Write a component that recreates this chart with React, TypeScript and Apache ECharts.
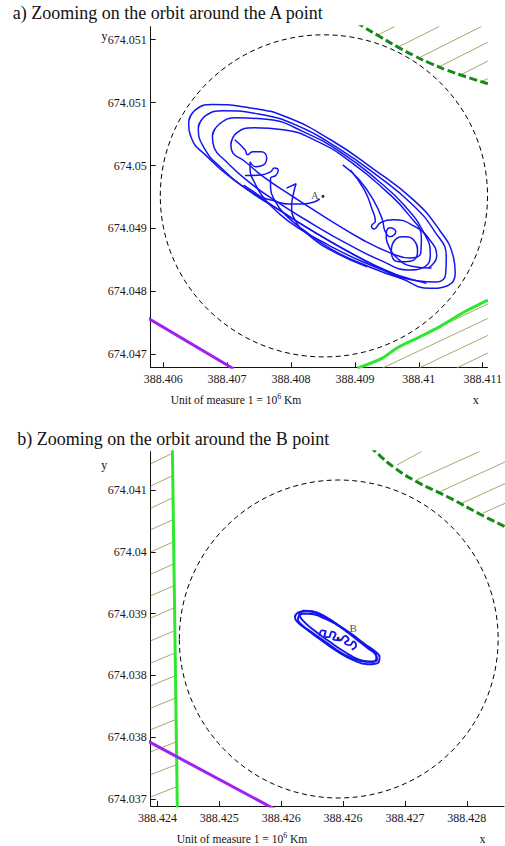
import React, { useEffect, useRef } from 'react';
import * as echarts from 'echarts';

type Pt = [number, number];

// ---------- tick labels (axes are in tick-index units: tick i at value i) ----------
const tickValues = [0, 1, 2, 3, 4, 5];
const xLabelsA = ['388.406', '388.407', '388.408', '388.409', '388.41', '388.411'];
const yLabelsA = ['674.047', '674.048', '674.049', '674.05', '674.051', '674.051'];
const xLabelsB = ['388.424', '388.425', '388.426', '388.426', '388.427', '388.428'];
const yLabelsB = ['674.037', '674.038', '674.038', '674.039', '674.04', '674.041'];

// ---------- panel a: orbit around A ----------
const loopA1: Pt[] = [[0.40,3.70],[0.51,3.89],[0.77,3.97],[1.34,3.92],[1.91,3.78],[2.62,3.41],[3.27,2.96],[3.92,2.45],[4.32,1.98],[4.54,1.55],[4.57,1.29],[4.45,1.09],[4.17,1.05],[3.74,1.20],[3.19,1.47],[2.65,1.77],[2.11,2.10],[1.60,2.44],[1.08,2.79],[0.68,3.15],[0.44,3.44],[0.40,3.70],[0.51,3.89]];
const loopA2: Pt[] = [[0.55,3.60],[0.66,3.79],[0.95,3.87],[1.49,3.82],[2.11,3.63],[2.73,3.28],[3.35,2.84],[3.89,2.39],[4.25,1.95],[4.43,1.55],[4.42,1.28],[4.28,1.15],[3.97,1.17],[3.50,1.33],[2.96,1.60],[2.42,1.91],[1.88,2.25],[1.34,2.60],[0.91,2.96],[0.64,3.28],[0.55,3.60],[0.66,3.79]];
const loopA3: Pt[] = [[0.77,3.47],[0.88,3.66],[1.15,3.76],[1.65,3.73],[2.19,3.54],[2.81,3.19],[3.35,2.77],[3.78,2.36],[4.08,1.93],[4.18,1.60],[4.09,1.39],[3.84,1.34],[3.43,1.48],[2.89,1.75],[2.34,2.07],[1.80,2.41],[1.34,2.74],[0.97,3.08],[0.80,3.28],[0.77,3.47],[0.88,3.66]];
const loopA4: Pt[] = [[1.06,3.33],[1.15,3.52],[1.42,3.60],[1.88,3.57],[2.42,3.38],[2.96,3.04],[3.47,2.61],[3.84,2.22],[4.04,1.85],[4.03,1.61],[3.86,1.53],[3.58,1.60],[3.12,1.82],[2.58,2.15],[2.04,2.50],[1.57,2.82],[1.26,3.08],[1.09,3.20],[1.06,3.33],[1.15,3.52]];
const loopA5: Pt[] = [[3.57,1.66],[3.63,1.82],[3.78,1.87],[3.94,1.79],[3.98,1.63],[3.87,1.48],[3.69,1.47],[3.58,1.56],[3.57,1.66],[3.63,1.82]];
const legA1: Pt[] = [[1.12,3.41],[1.28,3.25],[1.32,3.17],[1.40,3.22],[1.53,3.22],[1.62,3.12],[1.57,3.01],[1.45,2.98],[1.36,3.06],[1.36,2.93],[1.43,2.73],[1.57,2.49],[1.80,2.25],[2.11,2.01],[2.58,1.74],[3.12,1.47],[3.66,1.26],[4.12,1.13]];
const legA2: Pt[] = [[1.28,2.84],[1.53,2.85],[1.68,2.90],[1.74,2.96],[1.80,2.92],[1.76,2.84],[1.68,2.80],[1.68,2.65],[1.76,2.42],[1.91,2.22],[2.19,1.98],[2.65,1.66],[3.20,1.40],[3.74,1.20]];
const hookA: Pt[] = [[1.93,2.64],[2.08,2.71],[2.04,2.56],[2.01,2.36],[2.07,2.12],[2.27,1.90],[2.65,1.64],[3.19,1.39]];
const endA: Pt[] = [[1.26,2.69],[1.42,2.58],[1.54,2.50],[1.73,2.44],[1.96,2.39],[2.19,2.39],[2.36,2.42],[2.45,2.47]];
const legA3: Pt[] = [[2.93,2.93],[3.15,2.61],[3.27,2.30],[3.32,2.12],[3.26,2.04],[3.30,1.99],[3.40,2.09],[3.61,2.14],[3.92,2.04],[4.17,1.82],[4.28,1.56],[4.15,1.37]];
const legA4: Pt[] = [[2.81,3.01],[3.07,2.77],[3.29,2.45],[3.43,2.14],[3.47,1.96],[3.55,1.87],[3.64,1.95],[3.55,2.01],[3.49,1.90],[3.53,1.72],[3.66,1.53],[3.89,1.40],[4.20,1.37]];
const orbitA: Pt[][] = [loopA1, loopA2, loopA3, loopA4, loopA5, legA1, legA2, hookA, endA, legA3, legA4];

const pointA: Pt = [2.50, 2.51];
const circleA = [2.515, 2.518, 2.56]; // centre x, centre y, radius

const boundaryDashedA: Pt[] = [[2.87,5.38],[3.13,5.21],[3.39,5.05],[3.66,4.89],[3.92,4.75],[4.17,4.63],[4.43,4.52],[4.74,4.41],[5.08,4.30]];
const boundaryGreenA: Pt[] = [[3.04,-0.22],[3.43,-0.06],[3.66,0.10],[4.00,0.27],[4.33,0.44],[4.69,0.66],[5.08,0.86]];
const boundaryPurpleA: Pt[] = [[-0.25,0.58],[1.10,-0.23]];
const hatchTopA: Pt[][] = [
  [[3.35,5.07],[3.62,5.21]],
  [[3.67,4.88],[4.32,5.21]],
  [[4.00,4.71],[4.98,5.21]],
  [[4.32,4.57],[5.08,4.96]],
  [[4.65,4.44],[5.08,4.66]],
  [[4.97,4.33],[5.08,4.38]],
];
const hatchBottomA: Pt[][] = [
  [[4.33,0.44],[5.08,0.80]],
  [[3.43,-0.22],[5.08,0.57]],
  [[4.00,-0.22],[5.08,0.30]],
  [[4.59,-0.22],[5.08,0.02]],
];

// ---------- panel b: orbit around B ----------
const loopB1: Pt[] = [[2.22,2.95],[2.30,3.03],[2.42,3.04],[2.63,2.98],[2.90,2.83],[3.14,2.67],[3.35,2.51],[3.53,2.38],[3.59,2.30],[3.56,2.20],[3.40,2.18],[3.14,2.26],[2.92,2.38],[2.66,2.56],[2.42,2.74],[2.26,2.87],[2.22,2.95],[2.30,3.03]];
const loopB2: Pt[] = [[2.27,2.92],[2.34,3.00],[2.45,3.00],[2.64,2.95],[2.90,2.82],[3.12,2.67],[3.32,2.52],[3.48,2.40],[3.54,2.32],[3.51,2.23],[3.37,2.22],[3.12,2.29],[2.92,2.40],[2.68,2.57],[2.45,2.73],[2.30,2.85],[2.27,2.92],[2.34,3.00]];
const loopB3: Pt[] = [[2.29,2.99],[2.37,3.05],[2.50,3.04],[2.72,2.95],[2.98,2.77],[3.21,2.59],[3.40,2.44],[3.53,2.33],[3.55,2.25],[3.45,2.22],[3.27,2.25],[3.03,2.38],[2.79,2.54],[2.53,2.73],[2.34,2.90],[2.29,2.99],[2.37,3.05]];
const curlsB: Pt[] = [[2.62,2.64],[2.66,2.73],[2.72,2.72],[2.70,2.64],[2.77,2.62],[2.82,2.71],[2.88,2.67],[2.84,2.59],[2.95,2.57],[3.03,2.64],[3.09,2.58],[3.03,2.53],[3.11,2.49],[3.17,2.55],[3.21,2.48],[3.14,2.42]];
const orbitB: Pt[][] = [loopB1, loopB2, loopB3, curlsB];

const pointB: Pt = [2.92, 2.60];
const circleB = [2.93, 2.59, 2.577];

const boundaryDashedB: Pt[] = [[3.44,5.72],[3.52,5.63],[3.84,5.36],[4.19,5.14],[4.68,4.90],[5.24,4.60],[5.62,4.41]];
const boundaryGreenB: Pt[] = [[0.24,5.7],[0.321,-0.2]];
const boundaryPurpleB: Pt[] = [[-0.15,0.93],[1.90,-0.17]];
const hatchTopB: Pt[][] = [
  [[3.87,5.41],[4.27,5.63]],
  [[4.19,5.17],[5.21,5.63]],
  [[4.57,4.98],[5.62,5.46]],
  [[4.92,4.79],[5.62,5.11]],
  [[5.26,4.63],[5.62,4.79]],
];
const hatchLeftB: Pt[][] = [
  [[-0.11,5.43],[0.24,5.60]],
  [[-0.11,5.07],[0.25,5.24]],
  [[-0.11,4.71],[0.25,4.88]],
  [[-0.11,4.36],[0.26,4.53]],
  [[-0.11,4.00],[0.27,4.17]],
  [[-0.11,3.64],[0.27,3.81]],
  [[-0.11,3.29],[0.28,3.46]],
  [[-0.11,2.93],[0.28,3.10]],
  [[-0.11,2.56],[0.29,2.73]],
  [[-0.11,2.20],[0.30,2.37]],
  [[-0.11,1.83],[0.30,2.00]],
  [[-0.11,1.47],[0.31,1.64]],
  [[-0.11,1.12],[0.31,1.29]],
  [[-0.11,0.76],[0.32,0.93]],
  [[-0.11,0.39],[0.32,0.56]],
  [[-0.11,0.03],[0.32,0.20]],
];

// ---------- styling ----------
const FONT = "'Liberation Serif', 'Times New Roman', serif";
const BLUE = '#1414f0';
const HATCH = '#aaa66c';
const DARK_GREEN = '#168a16';
const GREEN = '#2ee82e';
const PURPLE = '#a020f0';

function axis(gridIndex: number, min: number, max: number, labels: string[], isX: boolean) {
  return {
    type: 'value',
    gridIndex,
    min,
    max,
    axisLine: { show: true, onZero: false, lineStyle: { color: '#111', width: 1 } },
    axisTick: { show: true, inside: true, length: 5, customValues: tickValues, lineStyle: { color: '#111' } },
    axisLabel: {
      show: true,
      customValues: tickValues,
      margin: isX ? 6 : 4,
      fontFamily: FONT,
      fontSize: 12,
      color: '#1a1a1a',
      formatter: (v: number) => labels[Math.round(v)] ?? '',
    },
    splitLine: { show: false },
  };
}

function line(data: Pt[], g: number, color: string, width: number, smooth: boolean | number, z: number, dash?: number[]) {
  return {
    type: 'line',
    xAxisIndex: g,
    yAxisIndex: g,
    data,
    smooth,
    symbol: 'none',
    showSymbol: false,
    clip: true,
    silent: true,
    z,
    lineStyle: { color, width, type: dash ? dash : 'solid', cap: 'butt' },
  };
}

function circle(c: number[], g: number) {
  return {
    type: 'custom',
    xAxisIndex: g,
    yAxisIndex: g,
    data: [c],
    silent: true,
    z: 3,
    renderItem: (_p: any, api: any) => {
      const ctr = api.coord([api.value(0), api.value(1)]);
      const sz = api.size([api.value(2), api.value(2)]);
      return {
        type: 'ellipse',
        shape: { cx: ctr[0], cy: ctr[1], rx: sz[0], ry: sz[1] },
        style: { fill: 'none', stroke: '#000', lineWidth: 1, lineDash: [5, 3.5] },
      };
    },
  };
}

function point(p: Pt, g: number, name: string, fontSize: number, pos: any, offset: number[]) {
  return {
    type: 'scatter',
    xAxisIndex: g,
    yAxisIndex: g,
    data: [p],
    symbol: 'circle',
    symbolSize: 3,
    silent: true,
    z: 6,
    itemStyle: { color: '#000' },
    label: { show: true, formatter: name, position: pos, distance: 3, offset, fontFamily: FONT, fontSize, color: '#222' },
  };
}

function text(x: number, y: number, t: string, fontSize: number, align = 'left') {
  return {
    type: 'text',
    x,
    y,
    silent: true,
    style: { text: t, fontFamily: FONT, fontSize, fill: '#111', align, verticalAlign: 'middle' },
  };
}

function unitText(x: number, y: number) {
  return {
    type: 'text',
    x,
    y,
    silent: true,
    style: {
      text: '{a|Unit of measure 1 = 10}{s|6}{a| Km}',
      fontFamily: FONT,
      align: 'center',
      verticalAlign: 'middle',
      rich: {
        a: { fontFamily: FONT, fontSize: 11.5, fill: '#111', lineHeight: 14, verticalAlign: 'bottom' },
        s: { fontFamily: FONT, fontSize: 8, fill: '#111', lineHeight: 14, verticalAlign: 'top' },
      },
    },
  };
}

export default function App() {
  const ref = useRef<HTMLDivElement>(null);
  useEffect(() => {
    if (!ref.current) return;
    const chart = echarts.init(ref.current, undefined, { renderer: 'svg' });
    const series: any[] = [];
    // panel a
    hatchTopA.forEach((s) => series.push(line(s, 0, HATCH, 1, false, 1)));
    hatchBottomA.forEach((s) => series.push(line(s, 0, HATCH, 1, false, 1)));
    series.push(line(boundaryDashedA, 0, DARK_GREEN, 3, true, 2, [8, 3.5]));
    series.push(line(boundaryGreenA, 0, GREEN, 3, 0.3, 2));
    series.push(line(boundaryPurpleA, 0, PURPLE, 3, false, 2));
    series.push(circle(circleA, 0));
    orbitA.forEach((s) => series.push(line(s, 0, BLUE, 1.5, true, 4)));
    series.push(point(pointA, 0, 'A', 10, 'left', [0, -1]));
    // panel b
    hatchTopB.forEach((s) => series.push(line(s, 1, HATCH, 1, false, 1)));
    hatchLeftB.forEach((s) => series.push(line(s, 1, HATCH, 1, false, 1)));
    series.push(line(boundaryDashedB, 1, DARK_GREEN, 3, true, 2, [8, 3.5]));
    series.push(line(boundaryGreenB, 1, GREEN, 3, false, 2));
    series.push(line(boundaryPurpleB, 1, PURPLE, 3, false, 2));
    series.push(circle(circleB, 1));
    orbitB.forEach((s) => series.push(line(s, 1, BLUE, 1.9, true, 4)));
    series.push(point(pointB, 1, 'B', 11, 'top', [15, 0]));

    chart.setOption({
      animation: false,
      backgroundColor: '#fff',
      textStyle: { fontFamily: FONT },
      grid: [
        { left: 150.7, top: 26.7, width: 341, height: 340.6, containLabel: false },
        { left: 150.7, top: 451.7, width: 353.3, height: 354.3, containLabel: false },
      ],
      xAxis: [axis(0, -0.195, 5.076, xLabelsA, true), axis(1, -0.11, 5.602, xLabelsB, true)],
      yAxis: [axis(0, -0.207, 5.207, yLabelsA, false), axis(1, -0.117, 5.626, yLabelsB, false)],
      series,
      graphic: [
        text(12.7, 13.4, 'a) Zooming on the orbit around the A point', 18),
        text(17.3, 438.9, 'b) Zooming on the orbit around the B point', 18),
        text(104.5, 35.5, 'y', 12, 'center'),
        text(104.3, 464.5, 'y', 12, 'center'),
        text(475.8, 399.7, 'x', 12, 'center'),
        text(482.5, 839, 'x', 12, 'center'),
        unitText(236, 399.3),
        unitText(242, 838),
      ],
    });
    return () => chart.dispose();
  }, []);
  return <div ref={ref} style={{ position: 'fixed', left: 0, top: 0, width: 505, height: 846 }} />;
}
